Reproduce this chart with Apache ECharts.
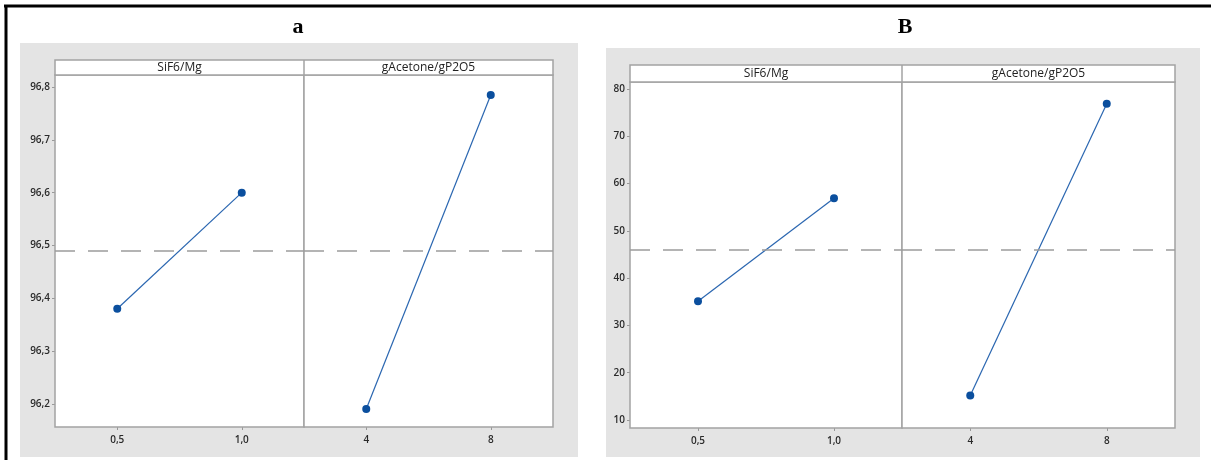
<!DOCTYPE html>
<html>
<head>
<meta charset="utf-8">
<script src="https://cdn.jsdelivr.net/npm/echarts@6/dist/echarts.min.js"></script>
<style>
  html, body { margin: 0; padding: 0; background: #ffffff; }
  #chart { width: 1211px; height: 460px; }
</style>
</head>
<body>
<div id="chart"></div>
<script>
// Main effects plots for two responses (panel a and panel B)
const factorNames = ['SiF6/Mg', 'gAcetone/gP2O5'];
const sif6Levels = ['0,5', '1,0'];
const acetoneLevels = ['4', '8'];

// Panel a: mean response per factor level
const aSif6Means = [96.38, 96.60];
const aAcetoneMeans = [96.19, 96.785];
const aGrandMean = 96.49;
const aYTicks = [96.2, 96.3, 96.4, 96.5, 96.6, 96.7, 96.8];

// Panel B: mean response per factor level
const bSif6Means = [35.1, 56.9];
const bAcetoneMeans = [15.2, 76.9];
const bGrandMean = 46.1;
const bYTicks = [10, 20, 30, 40, 50, 60, 70, 80];

const LINE_COLOR = '#2a66b0';
const MARK_COLOR = '#0b4f9e';
const FRAME_COLOR = '#a3a3a3';
const LABEL_FONT = 'Open Sans';

// layout of the two panels
const panels = [
  { title: 'a', bg: [20, 43, 558, 414], plot: { left: 55, top: 75, right: 553, bottom: 427, split: 304 }, head: 15,
    yMin: 96.156, yMax: 96.823, ticks: aYTicks, fmt: v => v.toFixed(1).replace('.', ','),
    left: aSif6Means, right: aAcetoneMeans, mean: aGrandMean, titleX: 298 },
  { title: 'B', bg: [606, 48, 594, 409], plot: { left: 630, top: 82, right: 1175, bottom: 428, split: 902 }, head: 17,
    yMin: 8.31, yMax: 81.5, ticks: bYTicks, fmt: v => String(v),
    left: bSif6Means, right: bAcetoneMeans, mean: bGrandMean, titleX: 905 }
];

const grid = [], xAxis = [], yAxis = [], series = [];
const graphic = [];

// outer table rules
graphic.push({ type: 'line', z: 100, shape: { x1: 4, y1: 6, x2: 1211, y2: 6 }, style: { stroke: '#000', lineWidth: 3 } });
graphic.push({ type: 'line', z: 100, shape: { x1: 6, y1: 5, x2: 6, y2: 460 }, style: { stroke: '#000', lineWidth: 3 } });

panels.forEach((p) => {
  const pl = p.plot;
  graphic.push({ type: 'rect', z: -10, shape: { x: p.bg[0], y: p.bg[1], width: p.bg[2], height: p.bg[3] },
    style: { fill: '#e4e4e4' } });
  graphic.push({ type: 'text', z: 100, x: p.titleX, y: 27,
    style: { text: p.title, font: 'bold 22px "Liberation Serif"', fill: '#000', textAlign: 'center', textVerticalAlign: 'middle' } });
  // factor header strip
  const hy = pl.top - p.head;
  graphic.push({ type: 'rect', z: 5, shape: { x: pl.left, y: hy, width: pl.right - pl.left, height: p.head },
    style: { fill: '#fff', stroke: FRAME_COLOR, lineWidth: 1.5 } });
  graphic.push({ type: 'line', z: 6, shape: { x1: pl.split, y1: hy, x2: pl.split, y2: pl.top }, style: { stroke: FRAME_COLOR, lineWidth: 1.5 } });
  [[pl.left, pl.split], [pl.split, pl.right]].forEach((r, k) => {
    graphic.push({ type: 'text', z: 7, x: (r[0] + r[1]) / 2, y: hy + p.head / 2,
      style: { text: factorNames[k], font: '12px "Open Sans"', fill: '#222', textAlign: 'center', textVerticalAlign: 'middle' } });
  });

  const cols = [[pl.left, pl.split, sif6Levels, p.left], [pl.split, pl.right, acetoneLevels, p.right]];
  cols.forEach((c, k) => {
    const gi = grid.length;
    grid.push({
      left: c[0], top: pl.top, width: c[1] - c[0], height: pl.bottom - pl.top,
      show: true, backgroundColor: '#fff', borderColor: FRAME_COLOR, borderWidth: 1.5, z: 1
    });
    xAxis.push({
      type: 'category', gridIndex: gi, data: c[2], boundaryGap: true,
      axisLine: { show: false },
      axisTick: { show: true, alignWithLabel: true, inside: false, length: 3, lineStyle: { color: '#999' } },
      axisLabel: { color: '#2a2a2a', fontFamily: LABEL_FONT, fontSize: 10, fontWeight: 600, margin: 8 },
      splitLine: { show: false }
    });
    yAxis.push({
      type: 'value', gridIndex: gi, min: p.yMin, max: p.yMax, show: k === 0,
      axisLine: { show: false },
      axisTick: { show: true, length: 3, customValues: p.ticks, lineStyle: { color: '#999' } },
      axisLabel: { customValues: p.ticks, formatter: p.fmt, color: '#2a2a2a', fontFamily: LABEL_FONT, fontSize: 10, fontWeight: 600, margin: 5 },
      splitLine: { show: false }
    });
    series.push({
      type: 'line', xAxisIndex: gi, yAxisIndex: gi, data: c[3],
      symbol: 'circle', symbolSize: 8, silent: true,
      itemStyle: { color: MARK_COLOR },
      lineStyle: { color: LINE_COLOR, width: 1.2 },
      markLine: {
        silent: true, symbol: 'none', label: { show: false },
        lineStyle: { color: '#9c9c9c', width: 1.6, type: [20, 13] },
        data: [{ yAxis: p.mean }]
      },
      z: 3
    });
  });
});

const chart = echarts.init(document.getElementById('chart'), null, { renderer: 'canvas' });
chart.setOption({
  animation: false,
  backgroundColor: '#ffffff',
  grid, xAxis, yAxis, series, graphic
});
</script>
</body>
</html>
